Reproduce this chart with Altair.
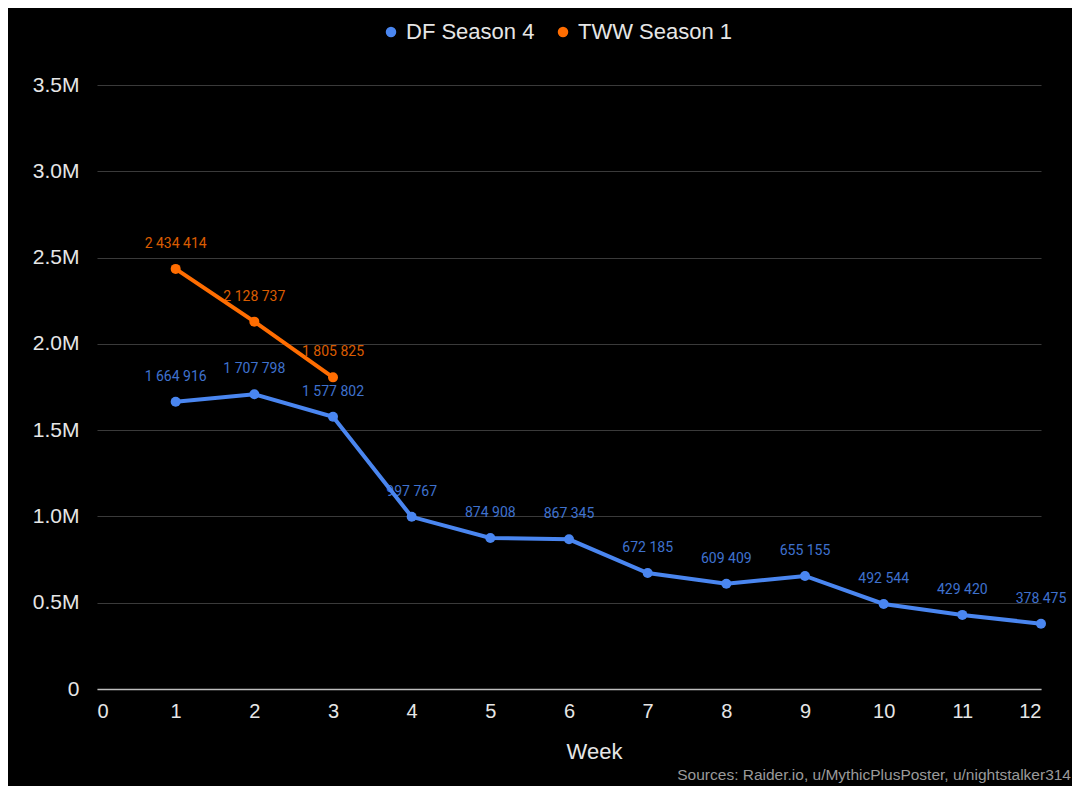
import altair as alt
import pandas as pd

weeks_df = list(range(1, 13))
df_values = [1664916, 1707798, 1577802, 997767, 874908, 867345, 672185, 609409, 655155, 492544, 429420, 378475]
weeks_tww = [1, 2, 3]
tww_values = [2434414, 2128737, 1805825]
series_names = ["DF Season 4", "TWW Season 1"]
series_colors = ["#4a86f0", "#ff6d01"]
x_ticks = list(range(0, 13))
y_ticks = [0, 500000, 1000000, 1500000, 2000000, 2500000, 3000000, 3500000]
source_text = "Sources: Raider.io, u/MythicPlusPoster, u/nightstalker314"

rows = []
for w, v in zip(weeks_df, df_values):
    rows.append({"week": w, "value": v, "series": series_names[0]})
for w, v in zip(weeks_tww, tww_values):
    rows.append({"week": w, "value": v, "series": series_names[1]})
data = pd.DataFrame(rows)
data["label"] = data["value"].map(lambda v: f"{v:,}".replace(",", " "))

color_scale = alt.Scale(domain=series_names, range=series_colors)
legend = alt.Legend(title=None, orient="none", direction="horizontal",
                    legendX=283, legendY=-64, symbolType="circle",
                    symbolSize=110, symbolStrokeWidth=0, labelFontSize=22, labelColor="#e6e6e6",
                    labelFont="Liberation Sans", columnPadding=17, labelOffset=4)
color_enc = alt.Color("series:N", scale=color_scale, legend=legend)

x_enc = alt.X("week:Q", scale=alt.Scale(domain=[0, 12], nice=False),
              axis=alt.Axis(values=x_ticks, title="Week", grid=False, ticks=False,
                            domain=True, domainColor="#bdbdbd", domainWidth=1.5,
                            labelPadding=12, titlePadding=20, titleX=497, titleAlign="center",
                            labelFontSize=20, format="d"))
y_enc = alt.Y("value:Q", scale=alt.Scale(domain=[0, 3500000], nice=False),
              axis=alt.Axis(values=y_ticks, title=None, ticks=False, domain=False,
                            grid=True, gridColor="#3a3a3a", gridWidth=1,
                            labelPadding=18, labelFontSize=21,
                            labelExpr="datum.value == 0 ? '0' : format(datum.value / 1000000, '.1f') + 'M'"))

base = alt.Chart(data)

points = base.mark_point(filled=True, size=100, opacity=1).encode(
    x=x_enc, y=y_enc, color=color_enc,
)
lines = base.mark_line(strokeWidth=4).encode(
    x="week:Q", y="value:Q", color=color_enc, detail="series:N",
)
labels = base.mark_text(dy=-25, fontSize=14, font="Roboto", opacity=0.85).encode(
    x="week:Q", y="value:Q", text="label:N", color=color_enc,
)
source = alt.Chart(pd.DataFrame({"t": [source_text]})).mark_text(
    align="right", baseline="alphabetic", fontSize=15.5, color="#9a9a9a",
    font="Liberation Sans"
).encode(text="t:N", x=alt.value(974), y=alt.value(695))

chart = alt.layer(points, lines, labels, source).properties(
    width=944, height=604,
    background="#000000",
    padding={"left": 89, "top": 77, "right": 31, "bottom": 97},
    autosize=alt.AutoSizeParams(type="none"),
).configure_view(stroke=None).configure_axis(
    labelColor="#e6e6e6", labelFont="Liberation Sans",
    titleColor="#e6e6e6", titleFontSize=22, titleFont="Liberation Sans", titleFontWeight="normal",
)

chart.save("out.html", embed_options={"renderer": "svg", "actions": False})
